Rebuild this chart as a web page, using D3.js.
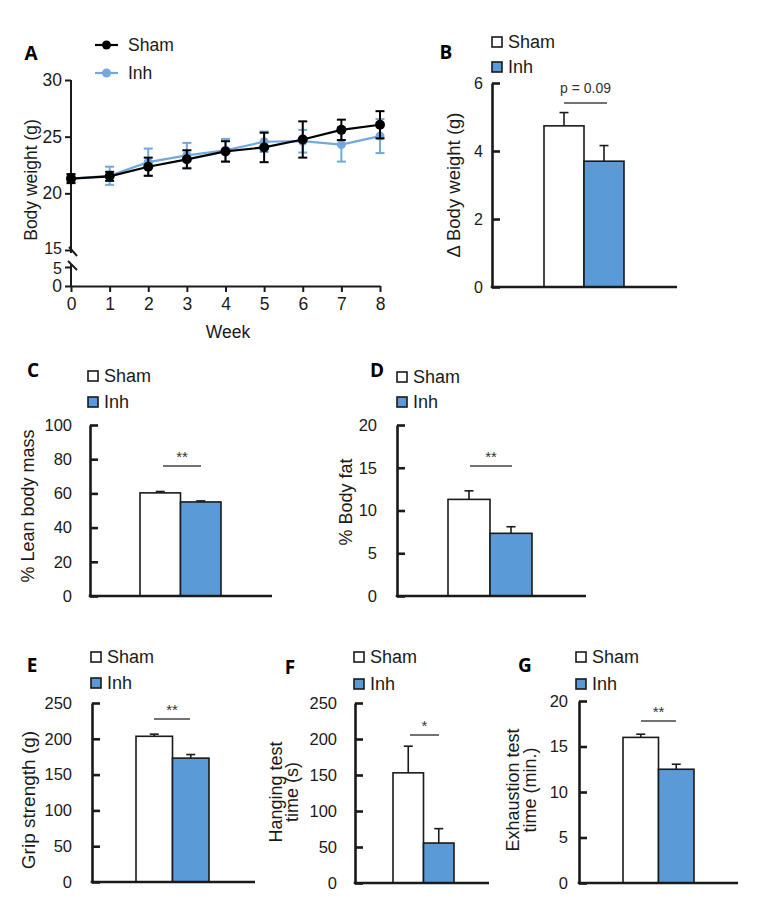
<!DOCTYPE html>
<html>
<head>
<meta charset="utf-8">
<script src="https://cdn.jsdelivr.net/npm/d3@7"></script>
<style>
  html, body { margin: 0; padding: 0; background: #fff; }
  svg { display: block; font-family: "Liberation Sans", Arial, sans-serif; }
  .letter { font-family: "Open Sans", "Liberation Sans", sans-serif; font-weight: 700; }
</style>
</head>
<body>
<svg id="chart" width="758" height="901"></svg>
<script>
// ---------------- DATA ----------------
const groups = ["Sham", "Inh"];
const weeks = [0, 1, 2, 3, 4, 5, 6, 7, 8];
const shamWeight    = [21.3, 21.5, 22.35, 23.0, 23.7, 24.05, 24.75, 25.6, 26.05];
const shamWeightErr = [0.4, 0.4, 0.8, 0.8, 0.9, 1.3, 1.6, 0.9, 1.2];
const inhWeight     = [21.3, 21.55, 22.75, 23.35, 23.8, 24.55, 24.6, 24.3, 25.05];
const inhWeightErr  = [0.3, 0.8, 1.2, 1.1, 1.0, 0.9, 1.0, 1.5, 1.5];
const weightTicks = [0, 5, 15, 20, 25, 30];

const deltaWeight = [4.74, 3.70];
const deltaWeightErr = [0.39, 0.46];
const deltaTicks = [0, 2, 4, 6];

const leanMass = [60.3, 55.0];
const leanMassErr = [0.8, 0.6];
const leanTicks = [0, 20, 40, 60, 80, 100];

const bodyFat = [11.3, 7.33];
const bodyFatErr = [1.0, 0.77];
const fatTicks = [0, 5, 10, 15, 20];

const gripStrength = [203.5, 173];
const gripStrengthErr = [3, 5];
const gripTicks = [0, 50, 100, 150, 200, 250];

const hangingTime = [153, 55.5];
const hangingTimeErr = [37, 20];
const hangingTicks = [0, 50, 100, 150, 200, 250];

const exhaustionTime = [16.0, 12.5];
const exhaustionTimeErr = [0.35, 0.55];
const exhaustionTicks = [0, 5, 10, 15, 20];

// ---------------- STYLE ----------------
const BLUE_FILL = "#5a9ad6";
const BLUE_LINE = "#72a8dd";
const INK = "#1a1a1a";

const svg = d3.select("#chart");

// ---------------- PANEL A ----------------
(function panelA() {
  const g = svg.append("g");
  const x = d3.scaleLinear().domain([0, 8]).range([71, 380]);
  const y = d3.scaleLinear().domain([0, 5, 15, 30]).range([286, 267, 250, 80]);

  // y axis (ticks and labels only)
  const ya = g.append("g").attr("transform", "translate(71,0)")
    .call(d3.axisLeft(y).tickValues(weightTicks).tickSize(6).tickPadding(3));
  ya.select(".domain").remove();
  ya.selectAll("line").attr("stroke", INK).attr("stroke-width", 2);
  ya.selectAll("text").attr("font-size", 17.5).attr("fill", INK).attr("font-family", "Liberation Sans, Arial, sans-serif");
  // the two labels squeezed round the axis break
  ya.selectAll(".tick").filter(d => d === 15).select("text").attr("font-size", 16).attr("dy", "0.2em");
  ya.selectAll(".tick").filter(d => d === 5).select("text").attr("font-size", 16).attr("dy", "0.42em");
  // broken axis line
  g.append("line").attr("x1", 71).attr("x2", 71).attr("y1", y(30)).attr("y2", 253).attr("stroke", INK).attr("stroke-width", 2);
  g.append("line").attr("x1", 71).attr("x2", 71).attr("y1", 264).attr("y2", y(0)).attr("stroke", INK).attr("stroke-width", 2);
  [[69, 247, 77, 256], [68, 261, 77, 270]].forEach(s => {
    g.append("line").attr("x1", s[0]).attr("y1", s[1]).attr("x2", s[2]).attr("y2", s[3])
      .attr("stroke", INK).attr("stroke-width", 2);
  });

  // x axis
  const xa = g.append("g").attr("transform", `translate(0,${y(0)})`)
    .call(d3.axisBottom(x).tickValues(weeks).tickSize(6).tickPadding(6).tickSizeOuter(0));
  xa.select(".domain").attr("stroke", INK).attr("stroke-width", 2);
  xa.selectAll("line").attr("stroke", INK).attr("stroke-width", 2);
  xa.selectAll("text").attr("font-size", 17.5).attr("fill", INK).attr("font-family", "Liberation Sans, Arial, sans-serif");

  g.append("text").attr("x", 228).attr("y", 332).attr("text-anchor", "middle").attr("dominant-baseline", "central")
    .attr("font-size", 17.5).attr("fill", INK).text("Week");
  g.append("text").attr("transform", "translate(31,180) rotate(-90)").attr("text-anchor", "middle")
    .attr("dominant-baseline", "central").attr("font-size", 17.5).attr("fill", INK).text("Body weight (g)");

  function series(vals, errs, color, r) {
    const s = g.append("g");
    const pts = weeks.map((w, i) => ({ w, v: vals[i], e: errs[i] }));
    s.selectAll(".eb").data(pts).enter().append("line")
      .attr("x1", d => x(d.w)).attr("x2", d => x(d.w))
      .attr("y1", d => y(d.v - d.e)).attr("y2", d => y(d.v + d.e))
      .attr("stroke", color).attr("stroke-width", 2);
    ["-", "+"].forEach(sign => {
      s.selectAll(".cap" + (sign === "+" ? "p" : "m")).data(pts).enter().append("line")
        .attr("x1", d => x(d.w) - 4.5).attr("x2", d => x(d.w) + 4.5)
        .attr("y1", d => y(sign === "+" ? d.v + d.e : d.v - d.e))
        .attr("y2", d => y(sign === "+" ? d.v + d.e : d.v - d.e))
        .attr("stroke", color).attr("stroke-width", 2);
    });
    s.append("path").datum(pts)
      .attr("d", d3.line().x(d => x(d.w)).y(d => y(d.v)))
      .attr("fill", "none").attr("stroke", color).attr("stroke-width", 2.2);
    s.selectAll("circle").data(pts).enter().append("circle")
      .attr("cx", d => x(d.w)).attr("cy", d => y(d.v)).attr("r", r).attr("fill", color);
  }
  series(inhWeight, inhWeightErr, BLUE_LINE, 4.5);
  series(shamWeight, shamWeightErr, "#000", 5);

  // legend
  const lg = [["Sham", "#000", 45], ["Inh", BLUE_LINE, 73]];
  lg.forEach(([name, c, ly]) => {
    g.append("line").attr("x1", 95).attr("x2", 118).attr("y1", ly).attr("y2", ly).attr("stroke", c).attr("stroke-width", 2.2);
    g.append("circle").attr("cx", 106.5).attr("cy", ly).attr("r", 4.5).attr("fill", c);
    g.append("text").attr("x", 128).attr("y", ly).attr("dominant-baseline", "central")
      .attr("font-size", 17.5).attr("fill", INK).text(name);
  });
  g.append("text").attr("class", "letter").attr("x", 31).attr("y", 53).attr("text-anchor", "middle")
    .attr("dominant-baseline", "central").attr("font-size", 19).text("A");
})();

// ---------------- BAR PANELS ----------------
function barPanel(cfg) {
  const g = svg.append("g");
  const y = d3.scaleLinear().domain([cfg.ticks[0], cfg.ticks[cfg.ticks.length - 1]]).range([cfg.y0, cfg.y1]);
  const x = d3.scaleBand().domain(groups).range(cfg.barRange).padding(0);

  // bars
  g.selectAll("rect.bar").data(groups).enter().append("rect")
    .attr("x", d => x(d)).attr("width", x.bandwidth())
    .attr("y", (d, i) => y(cfg.values[i])).attr("height", (d, i) => cfg.y0 - y(cfg.values[i]))
    .attr("fill", (d, i) => i === 0 ? "#fff" : BLUE_FILL)
    .attr("stroke", INK).attr("stroke-width", 1.6);
  // error bars (upper only)
  groups.forEach((d, i) => {
    const cx = x(d) + x.bandwidth() / 2;
    g.append("line").attr("x1", cx).attr("x2", cx)
      .attr("y1", y(cfg.values[i])).attr("y2", y(cfg.values[i] + cfg.errors[i]))
      .attr("stroke", INK).attr("stroke-width", 1.6);
    g.append("line").attr("x1", cx - 4.5).attr("x2", cx + 4.5)
      .attr("y1", y(cfg.values[i] + cfg.errors[i])).attr("y2", y(cfg.values[i] + cfg.errors[i]))
      .attr("stroke", INK).attr("stroke-width", 1.6);
  });

  // y axis
  const ya = g.append("g").attr("transform", `translate(${cfg.axisX},0)`)
    .call(d3.axisLeft(y).tickValues(cfg.ticks).tickFormat(d3.format("d"))
      .tickSizeInner(-8).tickSizeOuter(0).tickPadding(cfg.gap));
  ya.select(".domain").attr("stroke", INK).attr("stroke-width", 2.6);
  ya.selectAll(".tick line").attr("stroke", INK).attr("stroke-width", 2.6);
  ya.selectAll("text").attr("font-size", cfg.tickFont).attr("fill", INK).attr("font-family", "Liberation Sans, Arial, sans-serif");
  // x axis baseline
  g.append("line").attr("x1", cfg.axisX - 1.3).attr("x2", cfg.xEnd).attr("y1", cfg.y0).attr("y2", cfg.y0)
    .attr("stroke", INK).attr("stroke-width", 2.6);

  // significance
  g.append("line").attr("x1", cfg.sig[0]).attr("x2", cfg.sig[1]).attr("y1", cfg.sig[2]).attr("y2", cfg.sig[2])
    .attr("stroke", "#444").attr("stroke-width", 1.5);
  g.append("text").attr("x", (cfg.sig[0] + cfg.sig[1]) / 2).attr("y", cfg.sig[2] - cfg.sigDy)
    .attr("text-anchor", "middle").attr("font-size", cfg.sigFont).attr("fill", "#333").text(cfg.sigText);

  // y label
  cfg.label.forEach((line, k) => {
    g.append("text").attr("transform", `translate(${cfg.labelX[k]},${cfg.labelY}) rotate(-90)`)
      .attr("text-anchor", "middle").attr("dominant-baseline", "central")
      .attr("font-size", cfg.labelFont).attr("fill", INK).text(line);
  });

  // legend
  groups.forEach((name, i) => {
    const ly = cfg.legendY[i];
    g.append("rect").attr("x", cfg.legendX).attr("y", ly - 5).attr("width", 10).attr("height", 10)
      .attr("fill", i === 0 ? "#fff" : BLUE_FILL).attr("stroke", INK).attr("stroke-width", 1.6);
    g.append("text").attr("x", cfg.legendX + 16).attr("y", ly).attr("dominant-baseline", "central")
      .attr("font-size", cfg.legendFont).attr("fill", INK).text(name);
  });

  g.append("text").attr("class", "letter").attr("x", cfg.letterPos[0]).attr("y", cfg.letterPos[1])
    .attr("text-anchor", "middle").attr("dominant-baseline", "central").attr("font-size", 19).text(cfg.letter);
}

barPanel({
  letter: "B", letterPos: [446, 52],
  values: deltaWeight, errors: deltaWeightErr, ticks: deltaTicks,
  axisX: 492, y0: 287, y1: 83, xEnd: 677, barRange: [544, 624], gap: 9,
  sig: [564, 607, 103], sigText: "p = 0.09", sigDy: 10, sigFont: 14,
  label: ["\u0394 Body weight (g)"], labelX: [453], labelY: 185, labelFont: 18.5,
  legendX: 492, legendY: [42, 67], legendFont: 18, tickFont: 16
});
barPanel({
  letter: "C", letterPos: [33, 370],
  values: leanMass, errors: leanMassErr, ticks: leanTicks,
  axisX: 90, y0: 596, y1: 425, xEnd: 272, barRange: [140, 221], gap: 18,
  sig: [163, 201, 466], sigText: "**", sigDy: 4, sigFont: 15,
  label: ["% Lean body mass"], labelX: [28], labelY: 506, labelFont: 18,
  legendX: 88, legendY: [376, 402], legendFont: 18, tickFont: 16.5
});
barPanel({
  letter: "D", letterPos: [377, 370],
  values: bodyFat, errors: bodyFatErr, ticks: fatTicks,
  axisX: 397, y0: 596, y1: 425, xEnd: 586, barRange: [448, 532], gap: 20,
  sig: [470, 512, 466], sigText: "**", sigDy: 4, sigFont: 15,
  label: ["% Body fat"], labelX: [346], labelY: 502, labelFont: 18,
  legendX: 397, legendY: [377, 402], legendFont: 18, tickFont: 16.5
});
barPanel({
  letter: "E", letterPos: [32, 665],
  values: gripStrength, errors: gripStrengthErr, ticks: gripTicks,
  axisX: 92, y0: 882, y1: 703, xEnd: 255, barRange: [136, 209], gap: 20,
  sig: [154, 190, 719], sigText: "**", sigDy: 4, sigFont: 15,
  label: ["Grip strength (g)"], labelX: [28], labelY: 800, labelFont: 19,
  legendX: 91, legendY: [657, 683], legendFont: 18, tickFont: 16.5
});
barPanel({
  letter: "F", letterPos: [290, 667],
  values: hangingTime, errors: hangingTimeErr, ticks: hangingTicks,
  axisX: 355, y0: 883, y1: 703, xEnd: 489, barRange: [393, 454], gap: 18,
  sig: [410, 439, 735], sigText: "*", sigDy: 4, sigFont: 15,
  label: ["Hanging test", "time (s)"], labelX: [276, 292], labelY: 792, labelFont: 18,
  legendX: 354, legendY: [657, 684], legendFont: 18, tickFont: 16.5
});
barPanel({
  letter: "G", letterPos: [525, 665],
  values: exhaustionTime, errors: exhaustionTimeErr, ticks: exhaustionTicks,
  axisX: 579, y0: 883, y1: 701, xEnd: 738, barRange: [623, 694], gap: 11,
  sig: [641, 676, 721], sigText: "**", sigDy: 4, sigFont: 15,
  label: ["Exhaustion test", "time (min.)"], labelX: [513, 530], labelY: 790, labelFont: 18,
  legendX: 576, legendY: [657, 684], legendFont: 18, tickFont: 16.5
});
</script>
</body>
</html>
